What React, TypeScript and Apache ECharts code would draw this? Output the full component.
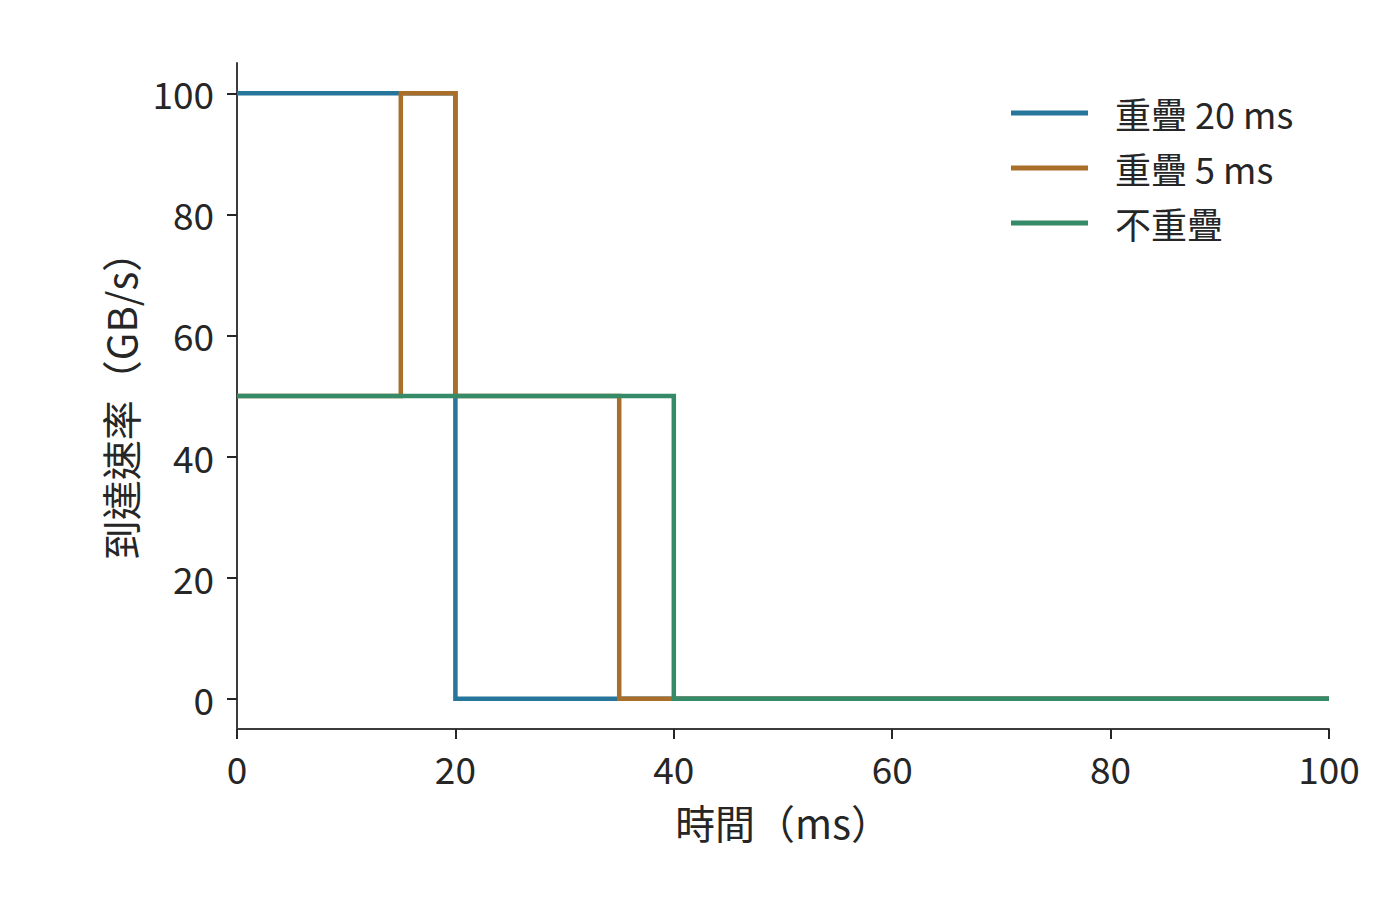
import { useRef, useEffect } from 'react'
import * as echarts from 'echarts'

const FONT = '"Noto Sans CJK TC", "Noto Sans CJK SC", "Noto Sans", sans-serif'
const TEXT = '#262626'

// 每條線的轉折點 [時間 ms, 到達速率 GB/s]
const overlap20: [number, number][] = [[0, 100], [20, 100], [20, 0], [100, 0]]
const overlap5: [number, number][] = [[0, 50], [15, 50], [15, 100], [20, 100], [20, 50], [35, 50], [35, 0], [100, 0]]
const noOverlap: [number, number][] = [[0, 50], [40, 50], [40, 0], [100, 0]]

const seriesNames = ['重疊 20 ms', '重疊 5 ms', '不重疊']
const seriesColors = ['#26759b', '#a86e2a', '#358a68']
const xTicks = [0, 20, 40, 60, 80, 100]
const yTicks = [0, 20, 40, 60, 80, 100]

export default function App() {
  const chartRef = useRef<HTMLDivElement>(null)

  useEffect(() => {
    document.body.style.margin = '0'
    if (!chartRef.current) return
    const chart = echarts.init(chartRef.current, null, { renderer: 'svg' })
    const data = [overlap20, overlap5, noOverlap]

    chart.setOption({
      animation: false,
      backgroundColor: '#ffffff',
      textStyle: { fontFamily: FONT, color: TEXT },
      grid: { left: 237, right: 71, top: 63, bottom: 183 },
      legend: {
        orient: 'vertical',
        left: 1006,
        top: 88,
        icon: 'rect',
        itemWidth: 77,
        itemHeight: 5,
        itemGap: 15,
        data: seriesNames,
        textStyle: { fontFamily: FONT, fontSize: 36, color: TEXT, lineHeight: 40, padding: [0, 0, 0, 22] }
      },
      xAxis: {
        type: 'value',
        min: 0,
        max: 100,
        interval: 20,
        name: '時間（ms）',
        nameLocation: 'middle',
        nameGap: 73,
        nameTextStyle: { fontFamily: FONT, fontSize: 40, color: TEXT },
        axisLine: { onZero: false, lineStyle: { color: '#3c3c3c', width: 2 } },
        axisTick: { show: true, length: 10, lineStyle: { color: TEXT, width: 2 }, customValues: xTicks },
        axisLabel: { fontFamily: FONT, fontSize: 37, color: TEXT, margin: 20, customValues: xTicks },
        splitLine: { show: false }
      },
      yAxis: {
        type: 'value',
        min: -5,
        max: 105,
        name: '到達速率（GB/s）',
        nameLocation: 'middle',
        nameGap: 97,
        nameTextStyle: { fontFamily: FONT, fontSize: 40, color: TEXT },
        axisLine: { show: true, onZero: false, lineStyle: { color: '#3c3c3c', width: 2 } },
        axisTick: { show: true, length: 10, lineStyle: { color: TEXT, width: 2 }, customValues: yTicks },
        axisLabel: { fontFamily: FONT, fontSize: 37, color: TEXT, margin: 23, customValues: yTicks },
        splitLine: { show: false }
      },
      series: seriesNames.map((name, i) => ({
        name,
        type: 'line',
        data: data[i],
        showSymbol: false,
        symbol: 'none',
        color: seriesColors[i],
        lineStyle: { color: seriesColors[i], width: 4.5, join: 'miter' }
      }))
    })

    return () => chart.dispose()
  }, [])

  return <div ref={chartRef} style={{ width: 1400, height: 912 }} />
}
